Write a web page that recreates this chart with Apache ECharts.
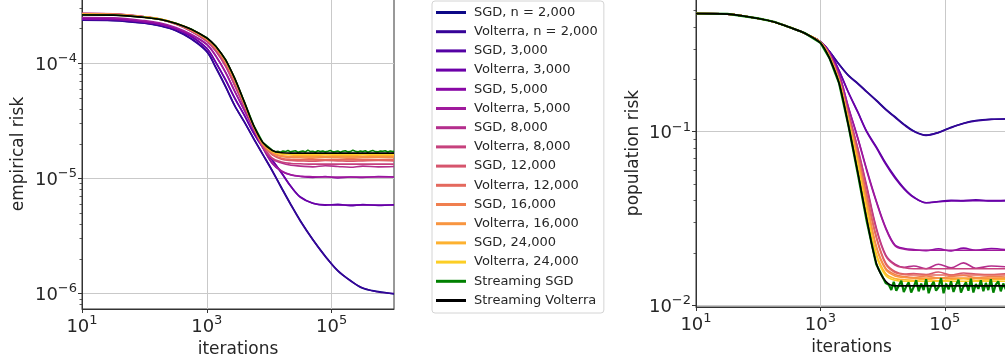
<!DOCTYPE html>
<html>
<head>
<meta charset="utf-8">
<script src="https://cdn.jsdelivr.net/npm/echarts@6/dist/echarts.min.js"></script>
<style>
  html, body { margin: 0; padding: 0; background: #fff; }
  #chart { width: 1005px; height: 364px; }
</style>
</head>
<body>
<div id="chart"></div>
<script>
// iterations (x) shared by the dataset curves
const iters = [10, 32, 100, 180, 320, 560, 1000, 1400, 2000, 2800, 4000, 5600, 7900, 11200,
  15800, 22400, 31600, 50000, 79000, 126000, 200000, 316000, 560000, 1000000];
// streaming SGD is logged more densely once it plateaus
const streamIters = [10, 32, 100, 180, 320, 560, 1000, 1400, 2000, 2800, 4000, 5600, 7900, 11200,
  12600, 13800, 15100, 16600, 18200, 20000, 21900, 24000, 26300, 28800,
  31600, 34700, 38000, 41700, 45700, 50100, 55000, 60300, 66100, 72400,
  79400, 87100, 95500, 105000, 115000, 126000, 138000, 151000, 166000, 182000,
  200000, 219000, 240000, 263000, 288000, 316000, 347000, 380000, 417000, 457000,
  501000, 550000, 603000, 661000, 724000, 794000, 871000, 955000, 1000000];

const seriesNames = ['SGD, n = 2,000', 'Volterra, n = 2,000', 'SGD, 3,000', 'Volterra, 3,000',
  'SGD, 5,000', 'Volterra, 5,000', 'SGD, 8,000', 'Volterra, 8,000', 'SGD, 12,000', 'Volterra, 12,000',
  'SGD, 16,000', 'Volterra, 16,000', 'SGD, 24,000', 'Volterra, 24,000', 'Streaming SGD', 'Streaming Volterra'];
const seriesColors = ['#0d0887', '#360498', '#5502a4', '#6c00a8', '#8908a5', '#a01a9c', '#b42e8d',
  '#c6417d', '#d6556d', '#e4695e', '#f07f4f', '#f89540', '#fdb130', '#fcce25', '#008000', '#000000'];

// left panel: empirical risk
const empSgd2000 = [2.38e-4, 2.36e-4, 2.24e-4, 2.12e-4, 1.93e-4, 1.64e-4, 1.27e-4, 9.2e-5, 6.3e-5, 4.3e-5, 3.1e-5, 2.24e-5, 1.62e-5, 1.17e-5, 8.3e-6, 5.9e-6, 4.3e-6, 2.95e-6, 2.12e-6, 1.57e-6, 1.3e-6, 1.11e-6, 1.04e-6, 0.99e-6];
const empVol2000 = [2.37e-4, 2.35e-4, 2.23e-4, 2.11e-4, 1.92e-4, 1.63e-4, 1.26e-4, 9.1e-5, 6.25e-5, 4.28e-5, 3.08e-5, 2.22e-5, 1.61e-5, 1.16e-5, 8.2e-6, 5.85e-6, 4.25e-6, 2.93e-6, 2.1e-6, 1.58e-6, 1.29e-6, 1.12e-6, 1.03e-6, 1.0e-6];
const empSgd3000 = [2.45e-4, 2.43e-4, 2.3e-4, 2.19e-4, 2.0e-4, 1.72e-4, 1.35e-4, 1.02e-4, 7.2e-5, 5.0e-5, 3.55e-5, 2.5e-5, 1.86e-5, 1.45e-5, 1.12e-5, 8.5e-6, 6.9e-6, 6.1e-6, 5.85e-6, 5.95e-6, 5.8e-6, 5.92e-6, 5.82e-6, 5.9e-6];
const empVol3000 = [2.44e-4, 2.42e-4, 2.29e-4, 2.18e-4, 1.99e-4, 1.71e-4, 1.34e-4, 1.01e-4, 7.15e-5, 4.97e-5, 3.53e-5, 2.49e-5, 1.85e-5, 1.44e-5, 1.11e-5, 8.45e-6, 6.85e-6, 6.08e-6, 5.9e-6, 5.88e-6, 5.87e-6, 5.87e-6, 5.87e-6, 5.87e-6];
const empSgd5000 = [2.42e-4, 2.4e-4, 2.28e-4, 2.18e-4, 2.0e-4, 1.76e-4, 1.45e-4, 1.15e-4, 8.3e-5, 5.7e-5, 3.9e-5, 2.7e-5, 1.85e-5, 1.35e-5, 1.15e-5, 1.07e-5, 1.04e-5, 1.02e-5, 1.04e-5, 1.01e-5, 1.03e-5, 1.02e-5, 1.04e-5, 1.03e-5];
const empVol5000 = [2.5e-4, 2.48e-4, 2.35e-4, 2.24e-4, 2.05e-4, 1.79e-4, 1.47e-4, 1.16e-4, 8.4e-5, 5.75e-5, 3.92e-5, 2.71e-5, 1.86e-5, 1.36e-5, 1.16e-5, 1.075e-5, 1.045e-5, 1.035e-5, 1.03e-5, 1.03e-5, 1.03e-5, 1.03e-5, 1.03e-5, 1.03e-5];
const empSgd8000 = [2.72e-4, 2.69e-4, 2.54e-4, 2.41e-4, 2.19e-4, 1.9e-4, 1.55e-4, 1.27e-4, 9.4e-5, 6.4e-5, 4.2e-5, 2.75e-5, 1.88e-5, 1.48e-5, 1.36e-5, 1.3e-5, 1.28e-5, 1.26e-5, 1.29e-5, 1.27e-5, 1.25e-5, 1.28e-5, 1.26e-5, 1.27e-5];
const empVol8000 = [2.7e-4, 2.68e-4, 2.53e-4, 2.4e-4, 2.18e-4, 1.9e-4, 1.56e-4, 1.28e-4, 9.5e-5, 6.45e-5, 4.22e-5, 2.77e-5, 1.9e-5, 1.5e-5, 1.39e-5, 1.35e-5, 1.34e-5, 1.33e-5, 1.33e-5, 1.33e-5, 1.33e-5, 1.33e-5, 1.33e-5, 1.33e-5];
const empSgd12000 = [2.7e-4, 2.68e-4, 2.54e-4, 2.42e-4, 2.21e-4, 1.94e-4, 1.6e-4, 1.33e-4, 1.0e-4, 6.9e-5, 4.4e-5, 2.82e-5, 1.95e-5, 1.6e-5, 1.47e-5, 1.43e-5, 1.42e-5, 1.41e-5, 1.43e-5, 1.42e-5, 1.41e-5, 1.42e-5, 1.43e-5, 1.42e-5];
const empVol12000 = [2.69e-4, 2.67e-4, 2.54e-4, 2.42e-4, 2.21e-4, 1.94e-4, 1.6e-4, 1.34e-4, 1.01e-4, 6.95e-5, 4.42e-5, 2.84e-5, 1.96e-5, 1.62e-5, 1.5e-5, 1.46e-5, 1.45e-5, 1.45e-5, 1.45e-5, 1.45e-5, 1.45e-5, 1.45e-5, 1.45e-5, 1.45e-5];
const empSgd16000 = [2.68e-4, 2.66e-4, 2.53e-4, 2.42e-4, 2.22e-4, 1.96e-4, 1.63e-4, 1.37e-4, 1.04e-4, 7.2e-5, 4.5e-5, 2.86e-5, 2.0e-5, 1.67e-5, 1.55e-5, 1.52e-5, 1.51e-5, 1.5e-5, 1.52e-5, 1.51e-5, 1.5e-5, 1.51e-5, 1.52e-5, 1.51e-5];
const empVol16000 = [2.67e-4, 2.65e-4, 2.52e-4, 2.41e-4, 2.22e-4, 1.96e-4, 1.64e-4, 1.38e-4, 1.05e-4, 7.25e-5, 4.52e-5, 2.87e-5, 2.01e-5, 1.69e-5, 1.57e-5, 1.55e-5, 1.54e-5, 1.54e-5, 1.54e-5, 1.54e-5, 1.54e-5, 1.54e-5, 1.54e-5, 1.54e-5];
const empSgd24000 = [2.66e-4, 2.64e-4, 2.52e-4, 2.42e-4, 2.23e-4, 1.98e-4, 1.65e-4, 1.39e-4, 1.06e-4, 7.3e-5, 4.55e-5, 2.88e-5, 2.03e-5, 1.72e-5, 1.63e-5, 1.6e-5, 1.59e-5, 1.58e-5, 1.6e-5, 1.59e-5, 1.58e-5, 1.6e-5, 1.59e-5, 1.59e-5];
const empVol24000 = [2.65e-4, 2.63e-4, 2.51e-4, 2.41e-4, 2.22e-4, 1.98e-4, 1.65e-4, 1.39e-4, 1.06e-4, 7.35e-5, 4.58e-5, 2.89e-5, 2.04e-5, 1.73e-5, 1.64e-5, 1.62e-5, 1.62e-5, 1.62e-5, 1.62e-5, 1.62e-5, 1.62e-5, 1.62e-5, 1.62e-5, 1.62e-5];
const empStreamSgd = [2.64e-4, 2.63e-4, 2.51e-4, 2.41e-4, 2.23e-4, 1.99e-4, 1.67e-4, 1.41e-4, 1.08e-4, 7.45e-5, 4.62e-5, 2.92e-5, 2.06e-5, 1.76e-5,
  1.70e-5, 1.72e-5, 1.69e-5, 1.73e-5, 1.71e-5, 1.75e-5, 1.70e-5, 1.72e-5, 1.74e-5, 1.69e-5,
  1.71e-5, 1.73e-5, 1.70e-5, 1.76e-5, 1.71e-5, 1.72e-5, 1.69e-5, 1.74e-5, 1.71e-5, 1.73e-5,
  1.70e-5, 1.72e-5, 1.75e-5, 1.70e-5, 1.71e-5, 1.73e-5, 1.69e-5, 1.72e-5, 1.74e-5, 1.70e-5,
  1.71e-5, 1.76e-5, 1.72e-5, 1.70e-5, 1.73e-5, 1.71e-5, 1.74e-5, 1.69e-5, 1.72e-5, 1.75e-5,
  1.71e-5, 1.70e-5, 1.73e-5, 1.72e-5, 1.74e-5, 1.70e-5, 1.73e-5, 1.71e-5, 1.72e-5];
const empStreamVol = [2.63e-4, 2.62e-4, 2.5e-4, 2.4e-4, 2.22e-4, 1.98e-4, 1.66e-4, 1.4e-4, 1.07e-4, 7.4e-5, 4.6e-5, 2.9e-5, 2.05e-5, 1.75e-5, 1.67e-5, 1.66e-5, 1.66e-5, 1.66e-5, 1.66e-5, 1.66e-5, 1.66e-5, 1.66e-5, 1.66e-5, 1.66e-5];

// right panel: population risk
const popSgd2000 = [0.48, 0.477, 0.45, 0.43, 0.40, 0.37, 0.33, 0.29, 0.245, 0.212, 0.19, 0.17, 0.152, 0.135, 0.122, 0.11, 0.101, 0.0955, 0.099, 0.106, 0.112, 0.116, 0.118, 0.1185];
const popVol2000 = [0.48, 0.477, 0.45, 0.43, 0.40, 0.37, 0.33, 0.29, 0.244, 0.211, 0.189, 0.169, 0.151, 0.134, 0.121, 0.109, 0.1005, 0.0953, 0.0988, 0.1055, 0.1115, 0.1155, 0.1178, 0.1183];
const popSgd3000 = [0.48, 0.477, 0.45, 0.43, 0.40, 0.37, 0.33, 0.29, 0.225, 0.17, 0.13, 0.1, 0.082, 0.066, 0.055, 0.047, 0.042, 0.0389, 0.0396, 0.0402, 0.0399, 0.0404, 0.0398, 0.0401];
const popVol3000 = [0.48, 0.477, 0.45, 0.43, 0.40, 0.37, 0.33, 0.29, 0.224, 0.169, 0.129, 0.099, 0.081, 0.065, 0.054, 0.0465, 0.0418, 0.0389, 0.0394, 0.0399, 0.04, 0.04, 0.04, 0.04];
const popSgd5000 = [0.48, 0.477, 0.45, 0.43, 0.40, 0.37, 0.33, 0.28, 0.215, 0.14, 0.092, 0.06, 0.04, 0.028, 0.0222, 0.0212, 0.0209, 0.0206, 0.0211, 0.0205, 0.0213, 0.0207, 0.0212, 0.0208];
const popVol5000 = [0.48, 0.477, 0.45, 0.43, 0.40, 0.37, 0.33, 0.28, 0.214, 0.139, 0.091, 0.059, 0.0395, 0.0277, 0.022, 0.021, 0.0207, 0.0207, 0.0207, 0.0207, 0.0207, 0.0207, 0.0207, 0.0207];
const popSgd8000 = [0.48, 0.477, 0.45, 0.43, 0.40, 0.37, 0.33, 0.28, 0.205, 0.13, 0.08, 0.048, 0.028, 0.0195, 0.0172, 0.0165, 0.0168, 0.0162, 0.0172, 0.0164, 0.0175, 0.0163, 0.0168, 0.0166];
const popVol8000 = [0.48, 0.477, 0.45, 0.43, 0.40, 0.37, 0.33, 0.28, 0.204, 0.129, 0.079, 0.047, 0.0275, 0.0192, 0.017, 0.0164, 0.0162, 0.0162, 0.0162, 0.0162, 0.0162, 0.0162, 0.0162, 0.0162];
const popSgd12000 = [0.48, 0.477, 0.45, 0.43, 0.40, 0.37, 0.328, 0.275, 0.2, 0.125, 0.074, 0.043, 0.025, 0.0175, 0.0156, 0.0151, 0.0152, 0.015, 0.0155, 0.0149, 0.0153, 0.0151, 0.015, 0.0152];
const popVol12000 = [0.48, 0.477, 0.45, 0.43, 0.40, 0.37, 0.328, 0.274, 0.199, 0.124, 0.073, 0.042, 0.0245, 0.0172, 0.0154, 0.015, 0.0149, 0.0149, 0.0149, 0.0149, 0.0149, 0.0149, 0.0149, 0.0149];
const popSgd16000 = [0.48, 0.477, 0.45, 0.43, 0.40, 0.37, 0.328, 0.272, 0.197, 0.12, 0.07, 0.039, 0.022, 0.0163, 0.015, 0.0146, 0.0144, 0.0147, 0.0143, 0.0146, 0.0148, 0.0144, 0.0146, 0.0145];
const popVol16000 = [0.48, 0.477, 0.45, 0.43, 0.40, 0.37, 0.328, 0.271, 0.196, 0.119, 0.069, 0.038, 0.0215, 0.016, 0.0147, 0.0144, 0.0143, 0.0143, 0.0143, 0.0143, 0.0143, 0.0143, 0.0143, 0.0143];
const popSgd24000 = [0.48, 0.477, 0.45, 0.43, 0.40, 0.37, 0.327, 0.27, 0.195, 0.116, 0.065, 0.035, 0.0198, 0.0152, 0.0142, 0.014, 0.0139, 0.0141, 0.0138, 0.014, 0.0142, 0.0139, 0.014, 0.0141];
const popVol24000 = [0.48, 0.477, 0.45, 0.43, 0.40, 0.37, 0.327, 0.268, 0.193, 0.114, 0.063, 0.034, 0.0193, 0.0148, 0.0139, 0.0137, 0.0137, 0.0137, 0.0137, 0.0137, 0.0137, 0.0137, 0.0137, 0.0137];
const popStreamSgd = [0.481, 0.478, 0.451, 0.431, 0.401, 0.371, 0.326, 0.266, 0.19, 0.11, 0.057, 0.030, 0.0172, 0.0134,
  0.0131, 0.0122, 0.0136, 0.0121, 0.0129, 0.0138, 0.0119, 0.0128, 0.0135, 0.0118,
  0.0127, 0.0139, 0.0120, 0.0133, 0.0122, 0.0141, 0.0117, 0.0129, 0.0136, 0.0121,
  0.0127, 0.0143, 0.0117, 0.0133, 0.0123, 0.0137, 0.0119, 0.0130, 0.0140, 0.0118,
  0.0128, 0.0135, 0.0121, 0.0142, 0.0118, 0.0132, 0.0124, 0.0139, 0.0120, 0.0134,
  0.0122, 0.0141, 0.0118, 0.0131, 0.0137, 0.0120, 0.0133, 0.0123, 0.0135];
const popStreamVol = [0.48, 0.477, 0.45, 0.43, 0.40, 0.37, 0.325, 0.265, 0.19, 0.11, 0.058, 0.031, 0.0175, 0.0137, 0.0129, 0.0129, 0.0129, 0.0129, 0.0129, 0.0129, 0.0129, 0.0129, 0.0129, 0.0129];

// axis ticks
const xTicks = [10, 1000, 100000];
const empTicks = [1e-6, 1e-5, 1e-4];
const empMinorTicks = [8e-7, 9e-7, 2e-6, 3e-6, 4e-6, 5e-6, 6e-6, 7e-6, 8e-6, 9e-6,
  2e-5, 3e-5, 4e-5, 5e-5, 6e-5, 7e-5, 8e-5, 9e-5, 2e-4, 3e-4];
const popTicks = [1e-2, 1e-1];
const popMinorTicks = [2e-2, 3e-2, 4e-2, 5e-2, 6e-2, 7e-2, 8e-2, 9e-2, 2e-1, 3e-1, 4e-1, 5e-1];

const empCurves = [empSgd2000, empVol2000, empSgd3000, empVol3000, empSgd5000, empVol5000,
  empSgd8000, empVol8000, empSgd12000, empVol12000, empSgd16000, empVol16000,
  empSgd24000, empVol24000, empStreamSgd, empStreamVol];
const popCurves = [popSgd2000, popVol2000, popSgd3000, popVol3000, popSgd5000, popVol5000,
  popSgd8000, popVol8000, popSgd12000, popVol12000, popSgd16000, popVol16000,
  popSgd24000, popVol24000, popStreamSgd, popStreamVol];

const FONT = 'DejaVu Sans';
const INK = '#262626';
const SPINE = '#333333';

const chart = echarts.init(document.getElementById('chart'));

function powLabel(v) {
  const e = Math.round(Math.log10(v));
  return '{b|10}{s|' + String(e).replace('-', '\u2212') + '}';
}
const powRich = {
  b: { fontSize: 18, fontFamily: FONT, color: INK, lineHeight: 22, verticalAlign: 'bottom' },
  s: { fontSize: 13, fontFamily: FONT, color: INK, lineHeight: 13, verticalAlign: 'top' }
};

function xAxis(gridIndex) {
  return {
    type: 'log', logBase: 10, gridIndex, min: 10, max: 1e6,
    name: 'iterations', nameLocation: 'middle', nameGap: 27,
    nameTextStyle: { fontSize: 17, fontFamily: FONT, color: INK },
    axisLine: { show: true, lineStyle: { color: SPINE, width: 1 } },
    axisTick: { show: true, length: 4, customValues: xTicks, lineStyle: { color: SPINE } },
    axisLabel: { customValues: xTicks, formatter: powLabel, rich: powRich, margin: 5 },
    splitLine: { show: true, lineStyle: { color: '#c9c9c9', width: 1 } },
    minorTick: { show: false }
  };
}
function yAxisMajor(gridIndex, min, max, ticks, name, gap) {
  return {
    type: 'log', logBase: 10, gridIndex, min, max, position: 'left',
    name, nameLocation: 'middle', nameGap: gap, nameRotate: 90,
    nameTextStyle: { fontSize: 17, fontFamily: FONT, color: INK },
    axisLine: { show: true, lineStyle: { color: SPINE, width: 1 } },
    axisTick: { show: true, length: 4, customValues: ticks, lineStyle: { color: SPINE } },
    axisLabel: { customValues: ticks, formatter: powLabel, rich: powRich, margin: 5 },
    splitLine: { show: true, lineStyle: { color: '#c9c9c9', width: 1 } }
  };
}
function yAxisMinor(gridIndex, min, max, ticks) {
  return {
    type: 'log', logBase: 10, gridIndex, min, max, position: 'left',
    axisLine: { show: false },
    axisTick: { show: true, length: 2.5, customValues: ticks, lineStyle: { color: SPINE, width: 0.8 } },
    axisLabel: { show: false, customValues: ticks },
    splitLine: { show: false }
  };
}

function buildSeries(curves, gridIndex) {
  return curves.map((ys, k) => {
    const xs = ys.length === streamIters.length ? streamIters : iters;
    const noisy = k === 14;
    return {
      name: seriesNames[k], type: 'line',
      xAxisIndex: gridIndex, yAxisIndex: gridIndex * 2,
      data: xs.map((x, i) => [x, ys[i]]),
      showSymbol: false, symbol: 'none',
      smooth: noisy ? false : 0.35,
      color: seriesColors[k],
      itemStyle: { color: seriesColors[k] },
      lineStyle: { color: seriesColors[k], width: noisy && gridIndex === 1 ? 2.2 : 1.6 },
      emphasis: { disabled: true },
      silent: true
    };
  });
}

const option = {
  animation: false,
  backgroundColor: '#ffffff',
  grid: [
    { left: 82, top: -1, width: 312, bottom: 55, show: true, borderColor: SPINE, borderWidth: 1, outerBoundsMode: 'none' },
    { left: 696, top: -1, right: -2, bottom: 57, show: true, borderColor: SPINE, borderWidth: 1, outerBoundsMode: 'none' }
  ],
  legend: {
    left: 432, top: 1, orient: 'vertical',
    data: seriesNames, icon: 'rect', itemWidth: 30, itemHeight: 3, itemGap: 4.2,
    padding: [4, 6, 5, 4],
    selectedMode: false,
    backgroundColor: '#ffffff', borderColor: '#d4d4d4', borderWidth: 1, borderRadius: 3,
    textStyle: { fontSize: 13, fontFamily: FONT, color: INK, lineHeight: 15, padding: [0, 0, 0, 3] }
  },
  xAxis: [xAxis(0), xAxis(1)],
  yAxis: [
    yAxisMajor(0, 7.34e-7, 3.62e-4, empTicks, 'empirical risk', 55),
    yAxisMinor(0, 7.34e-7, 3.62e-4, empMinorTicks),
    yAxisMajor(1, 0.00974, 0.583, popTicks, 'population risk', 54),
    yAxisMinor(1, 0.00974, 0.583, popMinorTicks)
  ],
  series: buildSeries(empCurves, 0).concat(buildSeries(popCurves, 1))
};

chart.setOption(option);
</script>
</body>
</html>
